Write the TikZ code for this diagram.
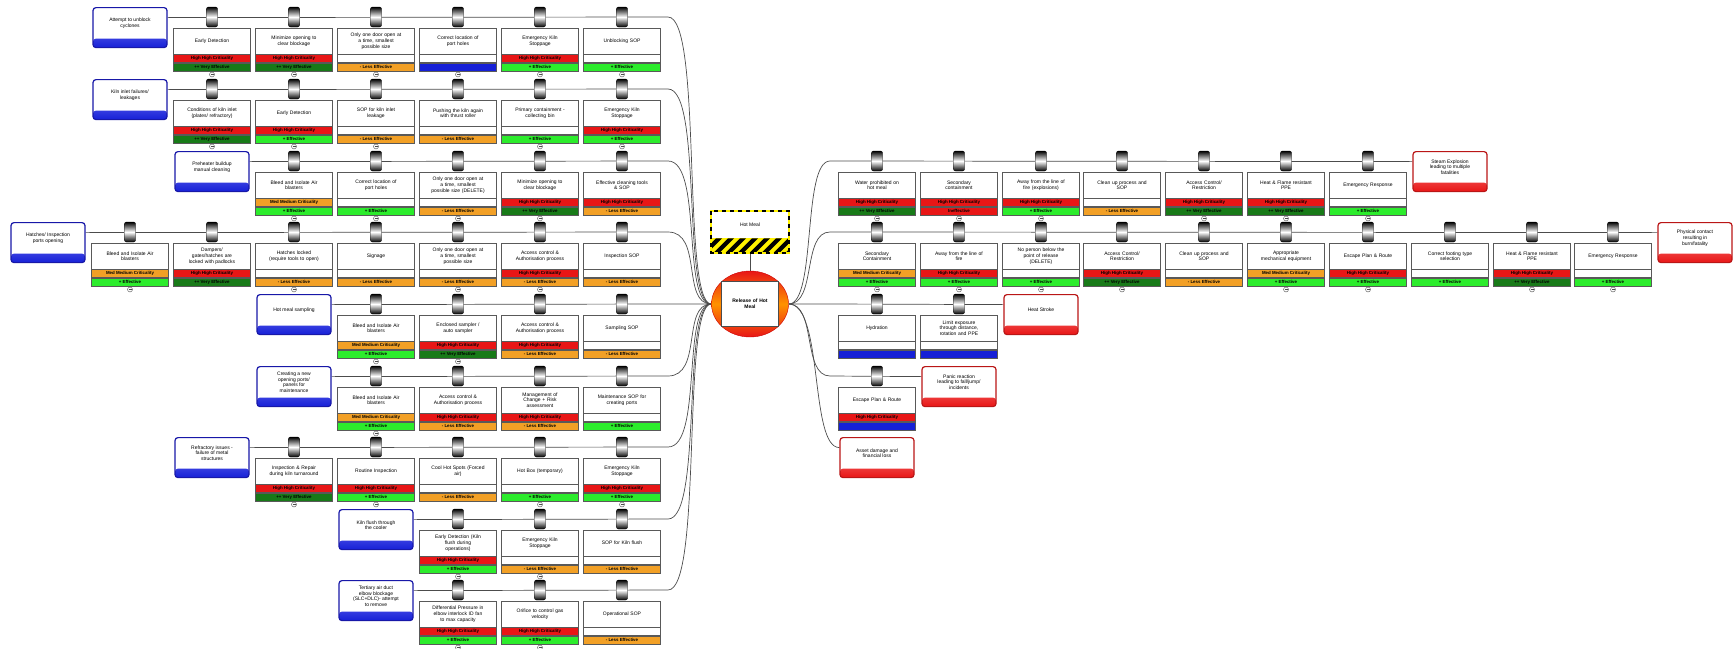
\documentclass[tikz,border=0pt]{standalone}
\usepackage{fontspec}
\setmainfont{Liberation Sans}
\usetikzlibrary{shapes.geometric,backgrounds}

\definecolor{critred}{RGB}{232,22,22}
\definecolor{medorange}{RGB}{242,160,38}
\definecolor{vgreen}{RGB}{24,122,24}
\definecolor{egreen}{RGB}{44,236,44}
\definecolor{unkblue}{RGB}{22,32,214}
\definecolor{threatblue}{RGB}{24,24,168}
\definecolor{consred}{RGB}{186,22,22}

% strip texts
\newcommand{\txthh}{High High Criticality}
\newcommand{\txtmm}{Med Medium Criticality}
\newcommand{\txtnc}{}
\newcommand{\txtvef}{++ Very Effective}
\newcommand{\txtef}{+ Effective}
\newcommand{\txtlef}{- Less Effective}
\newcommand{\txtinef}{Ineffective}
\newcommand{\txtunk}{}

% barrier: name, x, line y, text, criticality, effectiveness, mark
\newcommand{\barrier}[7]{%
  \node[gate] (#1g) at (#2,#3) {};
  \node[btext, anchor=north] (#1) at (#2,#3+11) {#4};
  \node[strip, #5, anchor=north] (#1c) at (#1.south) {\csname txt#5\endcsname};
  \node[strip, #6, anchor=north] (#1e) at (#1c.south) {\csname txt#6\endcsname};
  \node[#7, anchor=north] (#1o) at ([yshift=-0.6pt]#1e.south) {};
}
% threat / consequence box: name, x, line y, text, style
\newcommand{\event}[5]{%
  \node[#5, anchor=north] (#1) at (#2,#3-10) {\parbox[c][40pt][c]{74pt}{\centering #4\par\vspace*{9pt}}};
}

\begin{document}
\begin{tikzpicture}[x=1pt, y=-1pt]
  \tikzstyle{gate} = [rectangle, rounded corners=2pt, draw=black, inner sep=0pt, minimum width=11pt, minimum height=20pt, top color=black, bottom color=black, middle color=white]
  \tikzstyle{btext} = [rectangle, draw=black!65, fill=white, inner sep=1pt, text width=75pt, minimum height=26pt, align=center, font=\fontsize{5}{5.7}\selectfont]
  \tikzstyle{strip} = [rectangle, draw=black!65, inner sep=0pt, minimum width=77pt, minimum height=8pt, font=\fontsize{4.4}{5}\selectfont\bfseries]
  \tikzstyle{hh} = [fill=critred]
  \tikzstyle{mm} = [fill=medorange]
  \tikzstyle{nc} = [fill=white]
  \tikzstyle{vef} = [fill=vgreen]
  \tikzstyle{ef} = [fill=egreen]
  \tikzstyle{lef} = [fill=medorange]
  \tikzstyle{inef} = [fill=critred]
  \tikzstyle{unk} = [fill=unkblue]
  \tikzstyle{pm} = [circle, draw=black!70, fill=white, inner sep=0pt, minimum size=5pt, path picture={\draw[black!70, line width=0.4pt] ([xshift=1pt]path picture bounding box.west) -- ([xshift=-1pt]path picture bounding box.east);}]
  \tikzstyle{nm} = [inner sep=0pt, minimum size=0pt]
  \tikzstyle{threat} = [rectangle, rounded corners=3pt, draw=threatblue, line width=1.2pt, fill=white, inner sep=0pt, font=\fontsize{5}{5.7}\selectfont, path picture={\shade[top color=blue!40, bottom color=unkblue] ([yshift=9pt]path picture bounding box.south west) rectangle (path picture bounding box.south east);}]
  \tikzstyle{conseq} = [rectangle, rounded corners=3pt, draw=consred, line width=1.2pt, fill=white, inner sep=0pt, font=\fontsize{5}{5.7}\selectfont, path picture={\shade[top color=red!35, bottom color=critred] ([yshift=9pt]path picture bounding box.south west) rectangle (path picture bounding box.south east);}]
  \tikzstyle{link} = [draw=black!70, line width=0.7pt]

  \useasboundingbox (0,0) rectangle (1734,648);

  % hazard and top event
  \node[rectangle, fill=white, inner sep=0pt, minimum width=77pt, minimum height=27pt, font=\fontsize{5}{5.7}\selectfont] (haz) at (750,224.5) {Hot Meal};
  \node[rectangle, fill=yellow, inner sep=0pt, minimum width=77pt, minimum height=14pt, anchor=north, path picture={\foreach \k in {-6,...,6} \fill[black] ([xshift=\k*12pt]path picture bounding box.south) -- ++(6pt,0pt) -- ++(14pt,14pt) -- ++(-6pt,0pt) -- cycle;}] (hazs) at (haz.south) {};
  \draw[line width=2pt, yellow] (haz.north west) rectangle (hazs.south east);
  \draw[line width=2pt, black, dash pattern=on 4pt off 4pt] (haz.north west) rectangle (hazs.south east);
  \node[ellipse, draw=red!80!black, minimum width=77pt, minimum height=66pt, top color=critred, bottom color=critred, middle color=orange!85!yellow] (top) at (750,304) {};
  \node[rectangle, draw=black!70, fill=white, minimum width=53pt, minimum height=45pt, text width=50pt, align=center, font=\fontsize{5}{5.7}\selectfont\bfseries] (topbox) at (top) {Release of Hot\\Meal};

  % threats
  \event{t1}{130}{17}{Attempt to unblock\\cyclones}{threat}
  \event{t2}{130}{89}{Kiln inlet failures/\\leakages}{threat}
  \event{t3}{212}{161}{Preheater buildup\\manual cleaning}{threat}
  \event{t4}{48}{232}{Hatches/ Inspection\\ports opening}{threat}
  \event{t5}{294}{304}{Hot meal sampling}{threat}
  \event{t6}{294}{376}{Creating a new\\opening ports/\\panels for\\maintenance}{threat}
  \event{t7}{212}{447}{Refractory issues -\\failure of metal\\structures}{threat}
  \event{t8}{376}{519}{Kiln flush through\\the cooler}{threat}
  \event{t9}{376}{590}{Tertiary air duct\\elbow blockage\\(SLC+DLC)- attempt\\to remove}{threat}

  % consequences
  \event{c1}{1450}{161}{Steam Explosion\\leading to multiple\\fatalities}{conseq}
  \event{c2}{1695}{232}{Physical contact\\resulting in\\burn/fatality}{conseq}
  \event{c3}{1041}{304}{Heat Stroke}{conseq}
  \event{c4}{959}{376}{Panic reaction\\leading to fall/jump/\\incidents}{conseq}
  \event{c5}{877}{447}{Asset damage and\\financial loss}{conseq}

  % preventive barriers
  \barrier{b1a}{212}{17}{Early Detection}{hh}{vef}{pm}
  \barrier{b1b}{294}{17}{Minimize opening to\\clear blockage}{hh}{vef}{pm}
  \barrier{b1c}{376}{17}{Only one door open at\\a time, smallest\\possible size}{nc}{lef}{pm}
  \barrier{b1d}{458}{17}{Correct location of\\port holes}{nc}{unk}{pm}
  \barrier{b1e}{540}{17}{Emergency Kiln\\Stoppage}{hh}{ef}{pm}
  \barrier{b1f}{622}{17}{Unblocking SOP}{nc}{ef}{pm}

  \barrier{b2a}{212}{89}{Conditions of kiln inlet\\(plates/ refractory)}{hh}{vef}{pm}
  \barrier{b2b}{294}{89}{Early Detection}{hh}{ef}{pm}
  \barrier{b2c}{376}{89}{SOP for kiln inlet\\leakage}{nc}{lef}{pm}
  \barrier{b2d}{458}{89}{Pushing the kiln again\\with thrust roller}{nc}{lef}{nm}
  \barrier{b2e}{540}{89}{Primary containment -\\collecting bin}{nc}{ef}{pm}
  \barrier{b2f}{622}{89}{Emergency Kiln\\Stoppage}{hh}{ef}{pm}

  \barrier{b3a}{294}{161}{Bleed and Isolate Air\\blasters}{mm}{ef}{pm}
  \barrier{b3b}{376}{161}{Correct location of\\port holes}{nc}{ef}{pm}
  \barrier{b3c}{458}{161}{Only one door open at\\a time, smallest\\possible size (DELETE)}{nc}{lef}{pm}
  \barrier{b3d}{540}{161}{Minimize opening to\\clear blockage}{hh}{vef}{pm}
  \barrier{b3e}{622}{161}{Effective cleaning tools\\\& SOP}{hh}{lef}{nm}

  \barrier{b4a}{130}{232}{Bleed and Isolate Air\\blasters}{mm}{ef}{pm}
  \barrier{b4b}{212}{232}{Dampers/\\gates/hatches are\\locked with padlocks}{hh}{vef}{nm}
  \barrier{b4c}{294}{232}{Hatches locked\\(require tools to open)}{nc}{lef}{pm}
  \barrier{b4d}{376}{232}{Signage}{nc}{lef}{nm}
  \barrier{b4e}{458}{232}{Only one door open at\\a time, smallest\\possible size}{nc}{lef}{pm}
  \barrier{b4f}{540}{232}{Access control \&\\Authorisation process}{hh}{lef}{pm}
  \barrier{b4g}{622}{232}{Inspection SOP}{nc}{lef}{nm}

  \barrier{b5a}{376}{304}{Bleed and Isolate Air\\blasters}{mm}{ef}{pm}
  \barrier{b5b}{458}{304}{Enclosed sampler /\\auto sampler}{hh}{vef}{pm}
  \barrier{b5c}{540}{304}{Access control \&\\Authorisation process}{hh}{lef}{nm}
  \barrier{b5d}{622}{304}{Sampling SOP}{nc}{lef}{nm}

  \barrier{b6a}{376}{376}{Bleed and Isolate Air\\blasters}{mm}{ef}{pm}
  \barrier{b6b}{458}{376}{Access control \&\\Authorisation process}{hh}{lef}{nm}
  \barrier{b6c}{540}{376}{Management of\\Change + Risk\\assessment}{hh}{lef}{nm}
  \barrier{b6d}{622}{376}{Maintenance SOP for\\creating ports}{nc}{ef}{nm}

  \barrier{b7a}{294}{447}{Inspection \& Repair\\during kiln turnaround}{hh}{vef}{pm}
  \barrier{b7b}{376}{447}{Routine Inspection}{hh}{ef}{pm}
  \barrier{b7c}{458}{447}{Cool Hot Spots (Forced\\air)}{nc}{lef}{nm}
  \barrier{b7d}{540}{447}{Hot Box (temporary)}{nc}{ef}{pm}
  \barrier{b7e}{622}{447}{Emergency Kiln\\Stoppage}{hh}{ef}{pm}

  \barrier{b8a}{458}{519}{Early Detection (Kiln\\flush during\\operations)}{hh}{ef}{pm}
  \barrier{b8b}{540}{519}{Emergency Kiln\\Stoppage}{nc}{lef}{pm}
  \barrier{b8c}{622}{519}{SOP for Kiln flush}{nc}{lef}{nm}

  \barrier{b9a}{458}{590}{Differential Pressure in\\elbow interlock ID fan\\to max capacity}{hh}{ef}{pm}
  \barrier{b9b}{540}{590}{Orifice to control gas\\velocity}{hh}{ef}{pm}
  \barrier{b9c}{622}{590}{Operational SOP}{nc}{lef}{nm}

  % mitigating barriers
  \barrier{r1a}{877}{161}{Water prohibited on\\hot meal}{hh}{vef}{pm}
  \barrier{r1b}{959}{161}{Secondary\\containment}{hh}{inef}{pm}
  \barrier{r1c}{1041}{161}{Away from the line of\\fire (explosions)}{hh}{ef}{pm}
  \barrier{r1d}{1122}{161}{Clean up process and\\SOP}{nc}{lef}{nm}
  \barrier{r1e}{1204}{161}{Access Control/\\Restriction}{hh}{vef}{pm}
  \barrier{r1f}{1286}{161}{Heat \& Flame resistant\\PPE}{hh}{vef}{pm}
  \barrier{r1g}{1368}{161}{Emergency Response}{nc}{ef}{pm}

  \barrier{r2a}{877}{232}{Secondary\\Containment}{mm}{ef}{pm}
  \barrier{r2b}{959}{232}{Away from the line of\\fire}{hh}{ef}{pm}
  \barrier{r2c}{1041}{232}{No person below the\\point of release\\(DELETE)}{nc}{ef}{pm}
  \barrier{r2d}{1122}{232}{Access Control/\\Restriction}{hh}{vef}{pm}
  \barrier{r2e}{1204}{232}{Clean up process and\\SOP}{nc}{lef}{nm}
  \barrier{r2f}{1286}{232}{Appropriate\\mechanical equipment}{mm}{ef}{pm}
  \barrier{r2g}{1368}{232}{Escape Plan \& Route}{hh}{ef}{pm}
  \barrier{r2h}{1450}{232}{Correct footing type\\selection}{nc}{ef}{nm}
  \barrier{r2i}{1532}{232}{Heat \& Flame resistant\\PPE}{hh}{vef}{pm}
  \barrier{r2j}{1613}{232}{Emergency Response}{nc}{ef}{pm}

  \barrier{r3a}{877}{304}{Hydration}{nc}{unk}{nm}
  \barrier{r3b}{959}{304}{Limit exposure\\through distance,\\rotation and PPE}{nc}{unk}{nm}

  \barrier{r4a}{877}{376}{Escape Plan \& Route}{hh}{unk}{nm}

  % row ends
  \coordinate (e1) at (668,17);
  \coordinate (e2) at (668,89);
  \coordinate (e3) at (668,161);
  \coordinate (e4) at (668,232);
  \coordinate (e5) at (668,304);
  \coordinate (e6) at (668,376);
  \coordinate (e7) at (668,447);
  \coordinate (e8) at (668,519);
  \coordinate (e9) at (668,590);
  \coordinate (s1) at (830,161);
  \coordinate (s2) at (830,232);
  \coordinate (s3) at (830,304);
  \coordinate (s4) at (830,376);

  \begin{scope}[on background layer]
    \draw[link] (hazs) -- (top);
    \foreach \i in {1,...,9}
      \draw[link] ([yshift=10pt]t\i.east) -- (e\i) .. controls +(35,0) and +(-30,0) .. (top.west);
    \foreach \i in {1,...,4}
      \draw[link] (top.east) .. controls +(28,0) and +(-28,0) .. (s\i) -- ([yshift=10pt]c\i.west);
    \draw[link] (top.east) .. controls +(35,0) and +(-30,0) .. ([yshift=10pt]c5.west);
  \end{scope}
\end{tikzpicture}
\end{document}
